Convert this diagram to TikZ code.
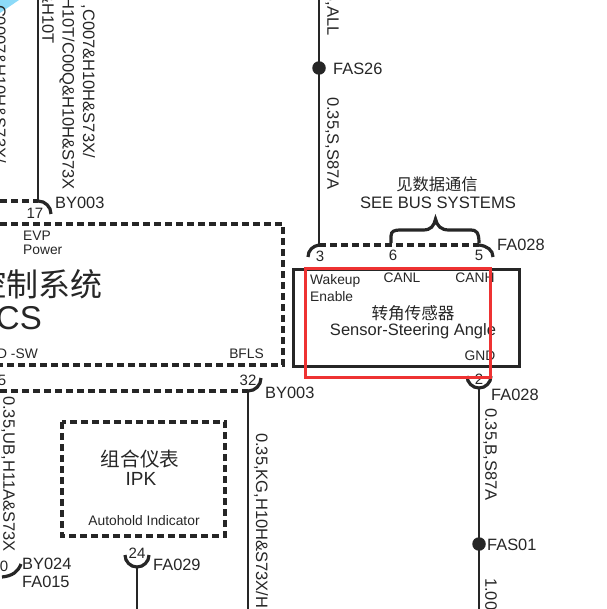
\documentclass[tikz,border=0pt]{standalone}
\usepackage{fontspec}
\setmainfont{Liberation Sans}
\newfontfamily\cjk{Noto Sans CJK SC}

\definecolor{markred}{RGB}{238,50,50}

\tikzset{
    wire/.style={line width=2pt, black!85},
    conn/.style={line width=3.2pt, black!85},
    dashbox/.style={line width=3.2pt, black!85, dash pattern=on 7pt off 4pt},
    splice/.style={circle, fill=black!85, inner sep=0pt, minimum size=13.5pt},
    pin/.style={font=\fontsize{15}{15}\selectfont, text=black!85, inner sep=0pt},
    sig/.style={font=\fontsize{13.8}{14}\selectfont, text=black!85, inner sep=0pt},
    tag/.style={font=\fontsize{16.4}{16}\selectfont, text=black!85, inner sep=0pt, anchor=west},
    gauge/.style={font=\fontsize{16.5}{16.5}\selectfont, text=black!85, inner sep=0pt, rotate=-90},
    title/.style={align=center, text=black!85, inner sep=0pt},
}

\begin{document}
\begin{tikzpicture}[x=1pt, y=-1pt]
    \useasboundingbox (0,0) rectangle (606,609);

    % cyan corner
    \fill[cyan!45!white] (0,0) -- (19,0) -- (0,13) -- cycle;

    % wires
    \coordinate (W1) at (38,0);
    \coordinate (W2) at (319,0);
    \coordinate (W3) at (479,609);
    \coordinate (W4) at (248,609);
    \coordinate (W5) at (137,609);
    \coordinate (P17) at (38,201);
    \coordinate (P3) at (319,245);
    \coordinate (P2) at (479,388);
    \coordinate (P32) at (248,391);
    \coordinate (P24) at (137,567);
    \draw[wire] (W1) -- (P17);
    \draw[wire] (W2) -- (P3);
    \draw[wire] (P2) -- (W3);
    \draw[wire] (P32) -- (W4);
    \draw[wire] (P24) -- (W5);

    % splices
    \node[splice] (FAS26) at (319,68) {};
    \node[splice] (FAS01) at (479,544) {};
    \node[tag] at (333,69) {FAS26};
    \node[tag] at (487,545) {FAS01};

    % rotated wire labels
    \node[gauge, anchor=east] at (332,36) {S,ALL};
    \node[gauge, anchor=west] at (332,97) {0.35,S,S87A};
    \node[gauge, anchor=west] at (490,408) {0.35,B,S87A};
    \node[gauge, anchor=west] at (490,578) {1.00,};
    \node[gauge, anchor=west] at (261,433) {0.35,KG,H10H\&S73X/H};
    \node[gauge, anchor=west] at (8,396) {0.35,UB,H11A\&S73X};
    \node[gauge, anchor=east] at (88,158) {,C007\&H10H\&S73X/};
    \node[gauge, anchor=east] at (67,190) {H10T/C00Q\&H10H\&S73X};
    \node[gauge, anchor=east] at (48,44) {\&H10T};
    \node[gauge, anchor=east] at (-1,163) {,C0007\&H10H\&S73X/};

    % bcs box
    \draw[dashbox] (0,224) -- (283,224) -- (283,365) -- (0,365);
    \draw[dashbox] (0,201) -- (38,201);
    \draw[dashbox] (0,391) -- (248,391);
    \draw[conn] (38,201) arc[start angle=90, end angle=0, radius=13pt];
    \draw[conn] (248,391) arc[start angle=-90, end angle=0, radius=13pt];
    \node[pin] at (35,213) {17};
    \node[pin] at (248,380) {32};
    \node[pin] at (2,380) {5};
    \node[tag] at (55,203) {BY003};
    \node[tag] at (265,393) {BY003};
    \node[sig, anchor=west, align=left] at (23,243) {EVP\\Power};
    \node[sig, anchor=east] at (38,354) {D -SW};
    \node[sig, anchor=east] at (264,354) {BFLS};
    \node[title, anchor=east, font=\fontsize{32}{32}\cjk] at (103,284) {控制系统};
    \node[title, anchor=east, font=\fontsize{33}{33}\selectfont] at (42,318) {CS};

    % ipk box
    \draw[dashbox] (62,422) rectangle (225,536);
    \node[title, font=\fontsize{19.6}{20}\cjk] at (140,459) {组合仪表};
    \node[title, font=\fontsize{19}{19}\selectfont] at (141,479) {IPK};
    \node[sig] at (144,521) {Autohold Indicator};
    \draw[conn] (125,555) arc[start angle=180, end angle=360, radius=12pt];
    \node[pin] at (137,553) {24};
    \node[tag] at (153,565) {FA029};
    \draw[conn] (2,577) .. controls (12,576) and (18,572) .. (21,564);
    \node[pin] at (4,566) {0};
    \node[tag] at (22,564) {BY024};
    \node[tag] at (22,582) {FA015};

    % sensor box
    \node[draw, line width=3pt, black!85, minimum width=226pt, minimum height=97pt, inner sep=0pt, outer sep=0pt] (SENS) at (406,317.5) {};
    \draw[conn] (308,257) .. controls (308,250) and (313,246) .. (319,245);
    \draw[dashbox] (319,245) -- (479,245);
    \draw[conn] (479,245) .. controls (487,246) and (493,250) .. (493,257);
    \draw[conn] (391,243) -- (391,236) .. controls (391,231) and (395,230) .. (400,230) -- (423,230) .. controls (431,230) and (434,226) .. (435.5,219) .. controls (437,226) and (441,230) .. (449,230) -- (471,230) .. controls (476,230) and (479,232) .. (479,243);
    \node[pin] at (320,256) {3};
    \node[pin] at (393,255) {6};
    \node[pin] at (479,255) {5};
    \node[tag] at (497,245) {FA028};
    \node[title, font=\fontsize{16.3}{16.3}\cjk] at (437,184) {见数据通信};
    \node[title, font=\fontsize{16.6}{17}\selectfont] at (438,203) {SEE BUS SYSTEMS};
    \node[sig, anchor=west, align=left, font=\fontsize{13.8}{17}\selectfont] at (310,288) {Wakeup\\Enable};
    \node[sig] at (402,278) {CANL};
    \node[sig] at (475,278) {CANH};
    \node[sig] at (480,356) {GND};
    \node[title, font=\fontsize{16.6}{16.6}\cjk] at (413,313) {转角传感器};
    \node[title, font=\fontsize{16.5}{17}\selectfont] at (413,331) {Sensor-Steering Angle};
    \draw[conn] (467,376) arc[start angle=180, end angle=360, radius=12pt];
    \node[pin] at (479,379) {2};
    \node[tag] at (491,395) {FA028};

    % red marker
    \draw[line width=3pt, markred] (305,268) rectangle (490,377);
\end{tikzpicture}
\end{document}
